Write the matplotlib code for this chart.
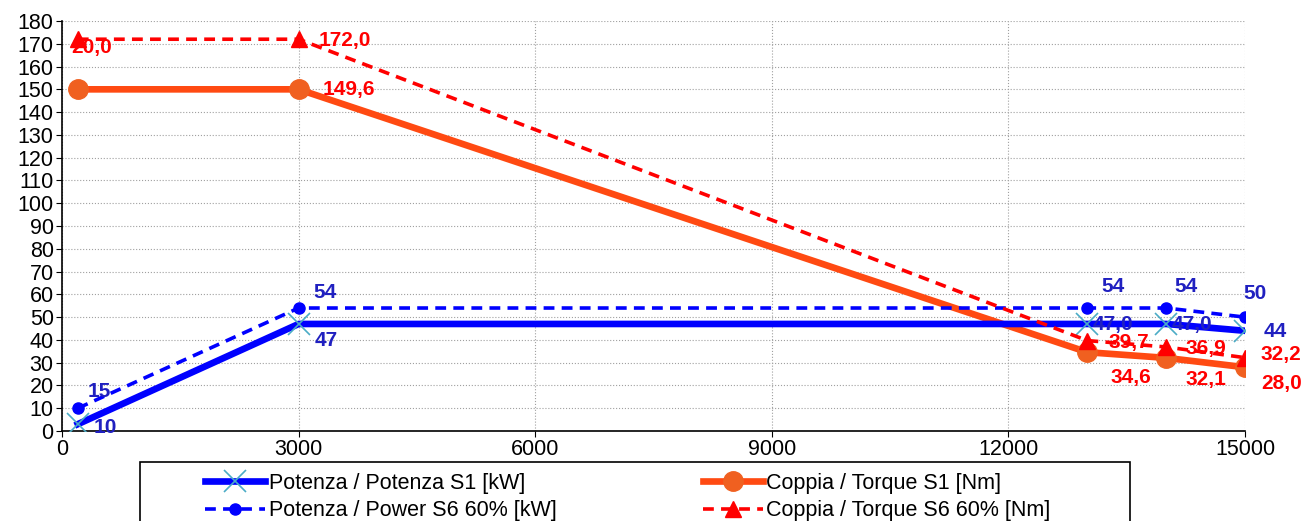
import matplotlib.pyplot as plt
from matplotlib.patches import Rectangle

plt.rcParams['font.family'] = ['Liberation Sans', 'DejaVu Sans']

# Data
rpm = [200, 3000, 13000, 14000, 15000]
power_s1 = [3, 47, 47, 47, 44]
power_s6 = [10, 54, 54, 54, 50]
torque_s1 = [150, 150, 34.6, 32.1, 28.0]
torque_s6 = [172, 172, 39.7, 36.9, 32.2]

power_s1_labels = ['10', '47', '47,0', '47,0', '44']
power_s6_labels = ['15', '54', '54', '54', '50']
torque_s1_labels = ['', '149,6', '34,6', '32,1', '28,0']
torque_s6_labels = ['20,0', '172,0', '39,7', '36,9', '32,2']

fig = plt.figure(figsize=(13.03, 5.21), dpi=100)
ax = fig.add_axes([0.0476, 0.1727, 0.9079, 0.787])

ax.plot(rpm, power_s1, color='#0000FF', lw=4.8, marker='x', ms=16, mec='#4BACC6', mew=1.2,
        label='Potenza / Potenza S1 [kW]', zorder=4)
ax.plot(rpm, torque_s1, color='#FF4A12', lw=4.8, marker='o', ms=14, mfc='#F06020', mec='#F06020',
        label='Coppia / Torque S1 [Nm]', zorder=3)
ax.plot(rpm, power_s6, color='#0000FF', lw=2.6, ls=(0, (3, 2)), marker='o', ms=8,
        label='Potenza / Power S6 60% [kW]', zorder=5)
ax.plot(rpm, torque_s6, color='#FF0000', lw=2.6, ls=(0, (3, 2)), marker='^', ms=12,
        label='Coppia / Torque S6 60% [Nm]', zorder=5)

blue_lab = '#2020C0'
red_lab = '#FF0000'
lab_font = dict(fontsize=15, fontweight='bold')

# label offsets in pixels
off_p1 = [(28, -3), (28, -17), (26, -1), (26, -1), (30, -1)]
off_p6 = [(22, 17), (26, 16), (26, 22), (20, 22), (10, 24)]
off_t1 = [(0, 0), (50, 0), (44, -25), (40, -22), (37, -16)]
off_t6 = [(14, -8), (46, -1), (42, -2), (40, -2), (36, 3)]

for x, y, s, o in zip(rpm, power_s1, power_s1_labels, off_p1):
    ax.annotate(s, (x, y), xytext=o, textcoords='offset pixels', ha='center', va='center',
                color=blue_lab, zorder=6, **lab_font)
for x, y, s, o in zip(rpm, power_s6, power_s6_labels, off_p6):
    ax.annotate(s, (x, y), xytext=o, textcoords='offset pixels', ha='center', va='center',
                color=blue_lab, zorder=6, **lab_font)
for x, y, s, o in zip(rpm, torque_s1, torque_s1_labels, off_t1):
    ax.annotate(s, (x, y), xytext=o, textcoords='offset pixels', ha='center', va='center',
                color=red_lab, zorder=6, **lab_font)
for x, y, s, o in zip(rpm, torque_s6, torque_s6_labels, off_t6):
    ax.annotate(s, (x, y), xytext=o, textcoords='offset pixels', ha='center', va='center',
                color=red_lab, zorder=6, **lab_font)

ax.set_xlim(0, 15000)
ax.set_ylim(0, 180)
ax.set_xticks(range(0, 15001, 3000))
ax.set_yticks(range(0, 181, 10))
ax.tick_params(labelsize=15.5, length=4, direction='out', pad=2)
ax.grid(True, color='#A0A0A0', lw=0.8, ls=':')
for side in ['top', 'right']:
    ax.spines[side].set_visible(False)
ax.spines['left'].set_linewidth(1.2)
ax.spines['bottom'].set_linewidth(1.2)

# legend box, cut by the bottom edge as in the original
fig.patches.append(Rectangle((140 / 1303, -0.1), 990 / 1303, 0.1 + 59 / 521,
                             transform=fig.transFigure, fill=False, ec='black', lw=1.2))

handles, labels = ax.get_legend_handles_labels()
order = [0, 2, 1, 3]
fig.legend([handles[i] for i in order], [labels[i] for i in order],
           loc='upper left', bbox_to_anchor=(205 / 1303, 1 - 473 / 521),
           ncol=2, fontsize=15.5, frameon=False, handlelength=2.8,
           borderpad=0, labelspacing=0.3, handletextpad=0.15, columnspacing=6.8,
           borderaxespad=0)

fig.savefig('out.png', dpi=100)
